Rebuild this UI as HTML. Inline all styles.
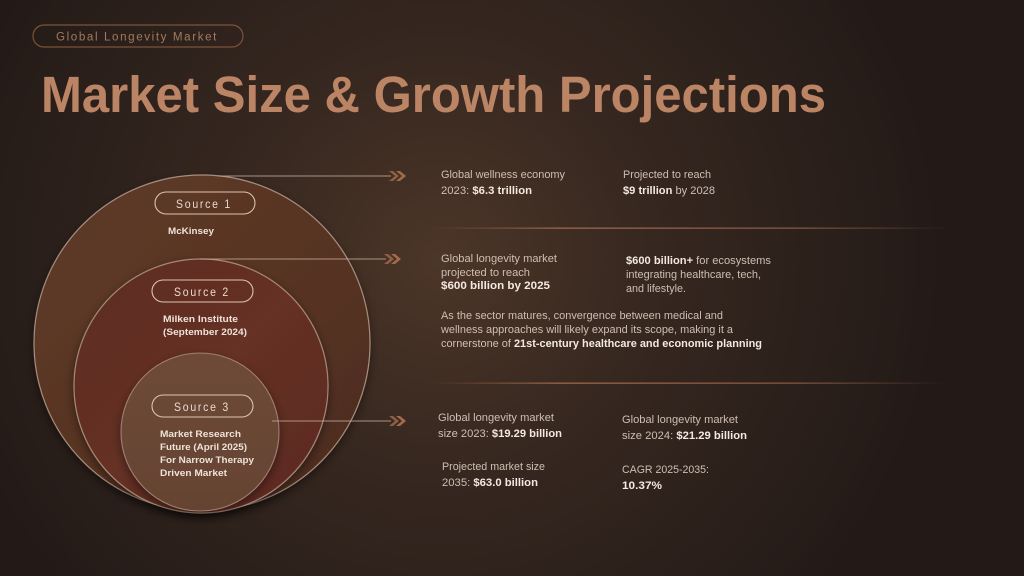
<!DOCTYPE html>
<html><head><meta charset="utf-8">
<style>
html,body{margin:0;padding:0;background:#2a1f1b;}
svg{display:block;}
text{font-family:"Liberation Sans",sans-serif;}
</style></head>
<body>
<svg width="1024" height="576" viewBox="0 0 1024 576" xmlns="http://www.w3.org/2000/svg">
<defs>
<radialGradient id="bg" cx="440" cy="260" r="500" gradientUnits="userSpaceOnUse">
<stop offset="0" stop-color="#4c3628"/>
<stop offset="0.4" stop-color="#372820"/>
<stop offset="1" stop-color="#231a17"/>
</radialGradient>
<linearGradient id="c1" x1="0" y1="0" x2="1" y2="1">
<stop offset="0" stop-color="#5e3b27"/>
<stop offset="0.5" stop-color="#583423"/>
<stop offset="1" stop-color="#4b2b1e"/>
</linearGradient>
<linearGradient id="c2" x1="0" y1="0" x2="1" y2="1">
<stop offset="0" stop-color="#5c2d21"/>
<stop offset="0.5" stop-color="#663025"/>
<stop offset="1" stop-color="#5a2a20"/>
</linearGradient>
<linearGradient id="c3" x1="0" y1="0" x2="0" y2="1">
<stop offset="0" stop-color="#6e4a38"/>
<stop offset="1" stop-color="#654332"/>
</linearGradient>
<linearGradient id="sep" x1="0" y1="0" x2="1" y2="0">
<stop offset="0" stop-color="#9a6448" stop-opacity="0"/>
<stop offset="0.25" stop-color="#a86e50" stop-opacity="0.9"/>
<stop offset="0.7" stop-color="#9a6448" stop-opacity="0.8"/>
<stop offset="1" stop-color="#9a6448" stop-opacity="0"/>
</linearGradient>
<filter id="sh" x="-20%" y="-20%" width="140%" height="140%">
<feDropShadow dx="0" dy="4" stdDeviation="5" flood-color="#000" flood-opacity="0.45"/>
</filter>
</defs>
<rect width="1024" height="576" fill="url(#bg)"/>

<!-- top pill -->
<rect x="33" y="25" width="210" height="22" rx="11" fill="none" stroke="#7d5238" stroke-width="1.2"/>
<text x="56" y="40.5" font-size="11.5" fill="#a47a5e" letter-spacing="1.6" textLength="162" lengthAdjust="spacingAndGlyphs">Global Longevity Market</text>

<!-- title -->
<text x="41" y="112" font-size="51" font-weight="bold" fill="#bb8465" textLength="785" lengthAdjust="spacingAndGlyphs">Market Size &amp; Growth Projections</text>

<!-- circles -->
<g filter="url(#sh)">
<circle cx="202" cy="343" r="168" fill="url(#c1)" stroke="#cdb3a2" stroke-opacity="0.7" stroke-width="1.2"/>
</g>
<g filter="url(#sh)">
<circle cx="201" cy="386" r="127" fill="url(#c2)" stroke="#cdb3a2" stroke-opacity="0.65" stroke-width="1.2"/>
</g>
<g filter="url(#sh)">
<circle cx="200" cy="432" r="79" fill="url(#c3)" stroke="#cdb3a2" stroke-opacity="0.55" stroke-width="1.1"/>
</g>

<!-- source pills -->
<rect x="155" y="192" width="100" height="22" rx="11" fill="none" stroke="#dcc4b4" stroke-width="1.1"/>
<text x="176" y="208" font-size="12" fill="#eadbd0" letter-spacing="2" textLength="56" lengthAdjust="spacingAndGlyphs">Source 1</text>
<rect x="152" y="280" width="101" height="22" rx="11" fill="none" stroke="#dcc4b4" stroke-width="1.1"/>
<text x="174" y="296" font-size="12" fill="#eadbd0" letter-spacing="2" textLength="56" lengthAdjust="spacingAndGlyphs">Source 2</text>
<rect x="152" y="395" width="101" height="22" rx="11" fill="none" stroke="#dcc4b4" stroke-width="1.1"/>
<text x="174" y="411" font-size="12" fill="#eadbd0" letter-spacing="2" textLength="56" lengthAdjust="spacingAndGlyphs">Source 3</text>

<g font-size="9.5" font-weight="bold" fill="#efe2d8">
<text x="168" y="234" textLength="46" lengthAdjust="spacingAndGlyphs">McKinsey</text>
<text x="163" y="322" textLength="75" lengthAdjust="spacingAndGlyphs">Milken Institute</text>
<text x="163" y="335" textLength="84" lengthAdjust="spacingAndGlyphs">(September 2024)</text>
<text x="160" y="437" textLength="81" lengthAdjust="spacingAndGlyphs">Market Research</text>
<text x="160" y="450" textLength="87" lengthAdjust="spacingAndGlyphs">Future (April 2025)</text>
<text x="160" y="463" textLength="94" lengthAdjust="spacingAndGlyphs">For Narrow Therapy</text>
<text x="160" y="476" textLength="67" lengthAdjust="spacingAndGlyphs">Driven Market</text>
</g>

<!-- arrows -->
<g stroke="#bfa593" stroke-width="1.1" stroke-opacity="0.85">
<line x1="218" y1="176" x2="391" y2="176"/>
<line x1="200" y1="259" x2="386" y2="259"/>
<line x1="272" y1="421" x2="391" y2="421"/>
</g>
<g fill="#a8704e">
<path d="M389 171 L395 176 L389 181 L393 181 L399 176 L393 171 Z" opacity="0.75"/>
<path d="M396 171 L402 176 L396 181 L400 181 L406 176 L400 171 Z" opacity="0.95"/>
<path d="M384 254 L390 259 L384 264 L388 264 L394 259 L388 254 Z" opacity="0.75"/>
<path d="M391 254 L397 259 L391 264 L395 264 L401 259 L395 254 Z" opacity="0.95"/>
<path d="M389 416 L395 421 L389 426 L393 426 L399 421 L393 416 Z" opacity="0.75"/>
<path d="M396 416 L402 421 L396 426 L400 426 L406 421 L400 416 Z" opacity="0.95"/>
</g>

<!-- separators -->
<rect x="430" y="227.5" width="520" height="1.3" fill="url(#sep)"/>
<rect x="430" y="382.5" width="515" height="1.3" fill="url(#sep)"/>

<!-- right texts -->
<g font-size="10.8" fill="#cfbfb2">
<text x="441" y="178" textLength="124" lengthAdjust="spacingAndGlyphs">Global wellness economy</text>
<text x="441" y="194" textLength="91" lengthAdjust="spacingAndGlyphs">2023: <tspan font-weight="bold" fill="#f3e9e1">$6.3 trillion</tspan></text>
<text x="623" y="178" textLength="88" lengthAdjust="spacingAndGlyphs">Projected to reach</text>
<text x="623" y="194" textLength="92" lengthAdjust="spacingAndGlyphs"><tspan font-weight="bold" fill="#f3e9e1">$9 trillion</tspan> by 2028</text>

<text x="441" y="262" textLength="116" lengthAdjust="spacingAndGlyphs">Global longevity market</text>
<text x="441" y="276" textLength="89" lengthAdjust="spacingAndGlyphs">projected to reach</text>
<text x="441" y="289" textLength="109" lengthAdjust="spacingAndGlyphs" font-weight="bold" fill="#f3e9e1">$600 billion by 2025</text>

<text x="626" y="264" textLength="145" lengthAdjust="spacingAndGlyphs"><tspan font-weight="bold" fill="#f3e9e1">$600 billion+</tspan> for ecosystems</text>
<text x="626" y="278" textLength="135" lengthAdjust="spacingAndGlyphs">integrating healthcare, tech,</text>
<text x="626" y="292" textLength="60" lengthAdjust="spacingAndGlyphs">and lifestyle.</text>

<text x="441" y="319" textLength="282" lengthAdjust="spacingAndGlyphs">As the sector matures, convergence between medical and</text>
<text x="441" y="333" textLength="292" lengthAdjust="spacingAndGlyphs">wellness approaches will likely expand its scope, making it a</text>
<text x="441" y="347" textLength="321" lengthAdjust="spacingAndGlyphs">cornerstone of <tspan font-weight="bold" fill="#f3e9e1">21st-century healthcare and economic planning</tspan></text>

<text x="438" y="421" textLength="116" lengthAdjust="spacingAndGlyphs">Global longevity market</text>
<text x="438" y="437" textLength="124" lengthAdjust="spacingAndGlyphs">size 2023: <tspan font-weight="bold" fill="#f3e9e1">$19.29 billion</tspan></text>
<text x="622" y="423" textLength="116" lengthAdjust="spacingAndGlyphs">Global longevity market</text>
<text x="622" y="439" textLength="125" lengthAdjust="spacingAndGlyphs">size 2024: <tspan font-weight="bold" fill="#f3e9e1">$21.29 billion</tspan></text>

<text x="442" y="470" textLength="103" lengthAdjust="spacingAndGlyphs">Projected market size</text>
<text x="442" y="486" textLength="96" lengthAdjust="spacingAndGlyphs">2035: <tspan font-weight="bold" fill="#f3e9e1">$63.0 billion</tspan></text>
<text x="622" y="473" textLength="87" lengthAdjust="spacingAndGlyphs">CAGR 2025-2035:</text>
<text x="622" y="489" textLength="40" lengthAdjust="spacingAndGlyphs" font-weight="bold" fill="#f3e9e1">10.37%</text>
</g>
</svg>
</body></html>
